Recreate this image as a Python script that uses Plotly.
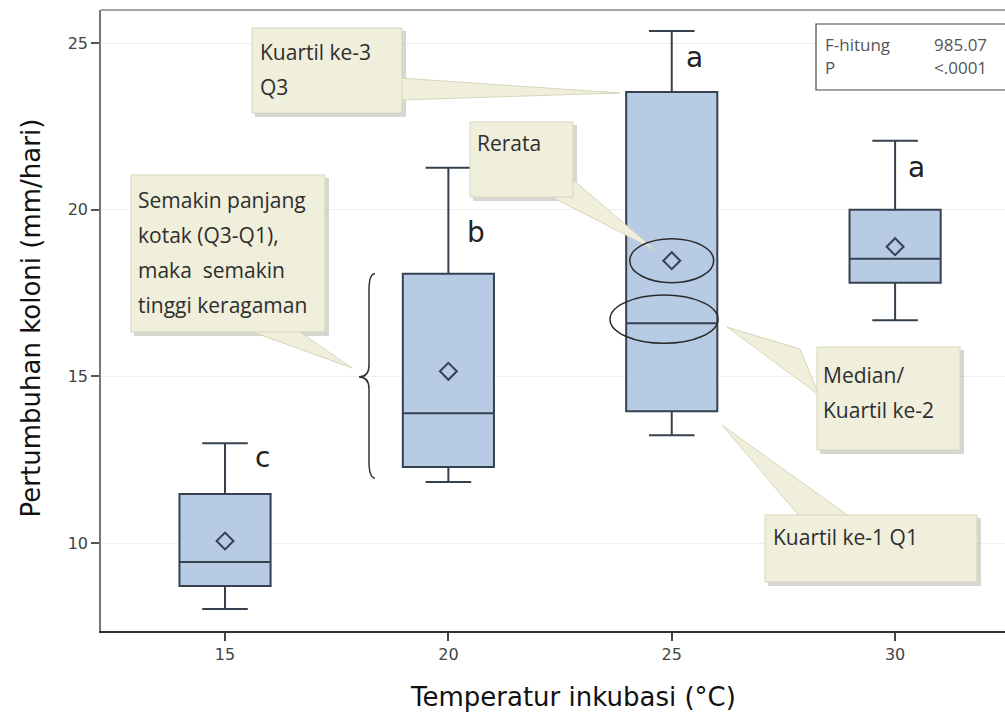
import plotly.graph_objects as go

# Box summary per incubation temperature
temps = [15, 20, 25, 30]
q1 = [8.71, 12.28, 13.95, 17.81]
median = [9.43, 13.89, 16.59, 18.53]
q3 = [11.47, 18.08, 23.53, 20.0]
lower = [8.02, 11.83, 13.23, 16.68]
upper = [12.99, 21.26, 25.36, 22.07]
means = [10.06, 15.15, 18.47, 18.89]

# Duncan grouping letters
groups = ['c', 'b', 'a', 'a']
group_dx = [0.83, 0.62, 0.52, 0.49]
group_y = [12.58, 19.33, 24.58, 21.28]

stats_names = ['F-hitung', 'P']
stats_values = ['985.07', '<.0001']

XR = [12.224, 32.46]
YR = [7.36, 25.99]
L, R, T, B = 101, 1005, 10, 631


def dx(p):
    # pixel column -> x data value
    return XR[0] + (p - L) * (XR[1] - XR[0]) / (R - L)


def dy(p):
    # pixel row -> y data value
    return YR[1] - (p - T) * (YR[1] - YR[0]) / (B - T)


BOX_FILL = '#b7cbe5'
BOX_LINE = '#36414f'
CALL_FILL = '#efefdc'
CALL_EDGE = '#d6d6bd'
TXT = '#2e2e2e'
FONT_CALL = 'Open Sans'
FONT_AX = 'DejaVu Sans'

fig = go.Figure()

fig.add_trace(go.Box(
    x=temps, q1=q1, median=median, q3=q3,
    lowerfence=lower, upperfence=upper,
    width=2.04, whiskerwidth=0.5, boxpoints=False,
    fillcolor=BOX_FILL, line=dict(color=BOX_LINE, width=2),
    showlegend=False,
))

fig.add_trace(go.Scatter(
    x=temps, y=means, mode='markers',
    marker=dict(symbol='diamond-open', size=13, color=BOX_LINE, line=dict(width=2)),
    showlegend=False,
))

shapes = []
annotations = []


def callout(box, wedge, lines, tx, ty0, size=21):
    x0, y0, x1, y1 = box  # pixels
    # soft shadow
    shapes.append(dict(type='rect', xref='x', yref='y', layer='above',
                       x0=dx(x0 + 3), x1=dx(x1 + 4), y0=dy(y0 + 3), y1=dy(y1 + 4),
                       fillcolor='rgba(120,120,110,0.3)', line=dict(width=0)))
    path = 'M ' + ' L '.join(f'{dx(a):.4f},{dy(b):.4f}' for a, b in wedge) + ' Z'
    shapes.append(dict(type='path', xref='x', yref='y', layer='above', path=path,
                       fillcolor=CALL_FILL, line=dict(color=CALL_EDGE, width=1)))
    shapes.append(dict(type='rect', xref='x', yref='y', layer='above',
                       x0=dx(x0), x1=dx(x1), y0=dy(y0), y1=dy(y1),
                       fillcolor=CALL_FILL, line=dict(color=CALL_EDGE, width=1)))
    for i, s in enumerate(lines):
        annotations.append(dict(x=dx(tx), y=dy(ty0 + 35 * i), xref='x', yref='y',
                                text=s, showarrow=False, xanchor='left', yanchor='middle',
                                font=dict(family=FONT_CALL, size=size, color=TXT)))


callout((252, 28, 402, 113), [(400, 78), (620, 93), (400, 100)],
        ['Kuartil ke-3', 'Q3'], 258, 52)
callout((131, 175, 325, 332), [(247, 330), (352, 368), (297, 330)],
        ['Semakin panjang', 'kotak (Q3-Q1),', 'maka  semakin', 'tinggi keragaman'], 136, 200)
callout((470, 122, 573, 197), [(548, 195), (655, 250), (571, 178)],
        ['Rerata'], 475, 143)
callout((817, 347, 960, 450), [(800, 349), (727, 327), (819, 395)],
        ['Median/', 'Kuartil ke-2'], 821, 375)
callout((765, 515, 977, 582), [(800, 517), (722, 425), (850, 517)],
        ['Kuartil ke-1 Q1'], 771, 537)

# ellipses around mean and median of the 25 °C box
shapes.append(dict(type='circle', xref='x', yref='y', layer='above',
                   x0=temps[2] - 0.94, x1=temps[2] + 0.94,
                   y0=means[2] - 0.66, y1=means[2] + 0.66,
                   line=dict(color='#2b2b2b', width=1.5)))
shapes.append(dict(type='circle', xref='x', yref='y', layer='above',
                   x0=dx(610), x1=dx(718), y0=median[2] - 0.6, y1=median[2] + 0.85,
                   line=dict(color='#2b2b2b', width=1.5)))

# curly brace next to the 20 °C box
bx, bm, bt = dx(375), dx(369), dx(359)
ytop, ybot, ymid = q3[1], dy(478), dy(377)
brace = (f'M {bx},{ytop} Q {bm},{ytop} {bm},{ytop - 0.5} L {bm},{ymid + 0.35} '
         f'Q {bm},{ymid} {bt},{ymid} Q {bm},{ymid} {bm},{ymid - 0.35} '
         f'L {bm},{ybot + 0.5} Q {bm},{ybot} {bx},{ybot}')
shapes.append(dict(type='path', xref='x', yref='y', layer='above', path=brace,
                   line=dict(color='#333333', width=1.5)))

# statistics box
shapes.append(dict(type='rect', xref='x', yref='y', layer='above',
                   x0=dx(816), x1=dx(1020), y0=dy(24), y1=dy(90),
                   fillcolor='white', line=dict(color='#444444', width=1.2)))
for i, (n, v) in enumerate(zip(stats_names, stats_values)):
    yy = dy(44 + 23 * i)
    annotations.append(dict(x=dx(823), y=yy, xref='x', yref='y', text=n, showarrow=False,
                            xanchor='left', yanchor='middle',
                            font=dict(family=FONT_CALL, size=17, color='#555555')))
    annotations.append(dict(x=dx(989), y=yy, xref='x', yref='y', text=v, showarrow=False,
                            xanchor='right', yanchor='middle',
                            font=dict(family=FONT_CALL, size=17, color='#555555')))

# top frame line
shapes.append(dict(type='line', xref='paper', yref='paper', x0=0, x1=1, y0=1, y1=1,
                   line=dict(color='#888888', width=1.5)))

for t, g, ox, gy in zip(temps, groups, group_dx, group_y):
    annotations.append(dict(x=t + ox, y=gy, xref='x', yref='y', text=g, showarrow=False,
                            font=dict(family=FONT_AX, size=28, color='#222222')))

# axis titles
annotations.append(dict(x=dx(573), y=-0.106, xref='x', yref='paper',
                        text='Temperatur inkubasi (°C)', showarrow=False,
                        yanchor='middle', font=dict(family=FONT_AX, size=26, color='#111111')))
annotations.append(dict(x=-0.077, y=dy(318), xref='paper', yref='y', textangle=-90,
                        text='Pertumbuhan koloni (mm/hari)', showarrow=False,
                        xanchor='center', font=dict(family=FONT_AX, size=26, color='#111111')))

fig.update_layout(
    width=1005, height=714,
    margin=dict(l=L, r=1005 - R, t=T, b=714 - B),
    paper_bgcolor='white', plot_bgcolor='white',
    shapes=shapes, annotations=annotations,
    font=dict(family=FONT_AX, color='#444444'),
    xaxis=dict(range=XR, tickvals=temps, ticks='outside', ticklen=8, tickwidth=1.5,
               tickcolor='#444444', showgrid=False, zeroline=False,
               showline=True, linecolor='#333333', linewidth=2,
               tickfont=dict(size=16, color='#444444')),
    yaxis=dict(range=YR, tickvals=[10, 15, 20, 25], ticks='outside', ticklen=8, tickwidth=1.5,
               tickcolor='#555555', showgrid=True, gridcolor='#efefef', zeroline=False,
               showline=True, linecolor='#777777', linewidth=1.5,
               tickfont=dict(size=16, color='#444444')),
)

fig.write_html("out.html", config={'displayModeBar': False},
               post_script="document.body.style.margin='0';")
